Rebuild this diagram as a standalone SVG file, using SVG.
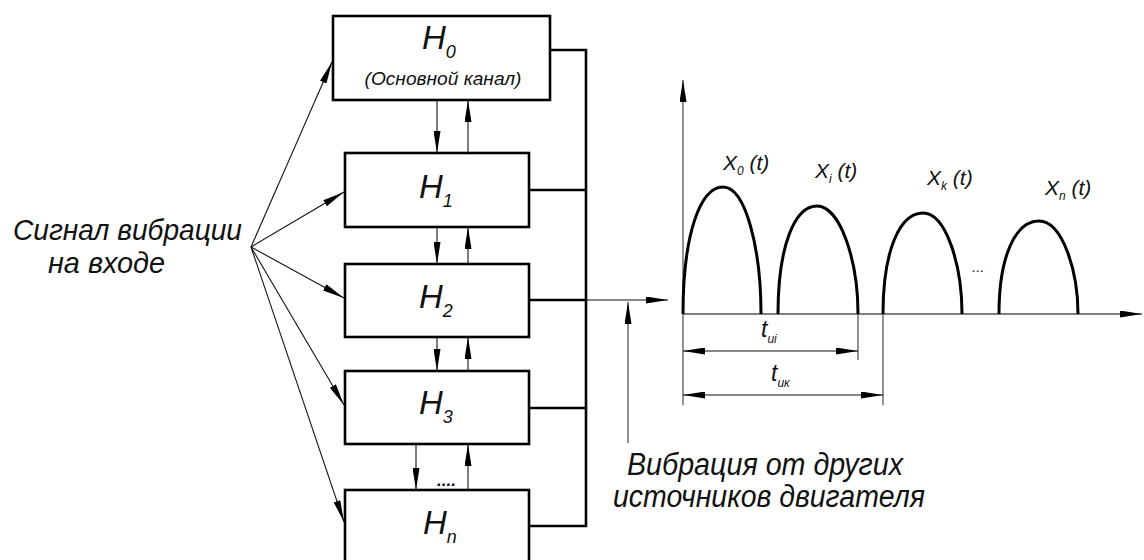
<svg xmlns="http://www.w3.org/2000/svg" width="1144" height="560" viewBox="0 0 1144 560">
<style>
.box{fill:#fff;stroke:#000;stroke-width:2.6}
.bus{fill:none;stroke:#000;stroke-width:2.6}
.thin{fill:none;stroke:#111;stroke-width:1.1}
.axis{fill:none;stroke:#555;stroke-width:1.3}
.hump{fill:none;stroke:#000;stroke-width:3}
text{font-family:"Liberation Sans","DejaVu Sans",sans-serif;font-style:italic;fill:#111}
.h{font-size:33px}
.sub{font-size:18px}
.lbl{font-size:21px}
</style>
<defs>
<marker id="ah" viewBox="0 0 22 7" refX="22" refY="3.5" markerWidth="22" markerHeight="7" markerUnits="userSpaceOnUse" orient="auto">
<path d="M0,0 L22,3.5 L0,7 Z" fill="#000"/>
</marker>
<marker id="ahs" viewBox="0 0 22 7" refX="0" refY="3.5" markerWidth="22" markerHeight="7" markerUnits="userSpaceOnUse" orient="auto">
<path d="M22,0 L0,3.5 L22,7 Z" fill="#000"/>
</marker>
</defs>

<g id="nodes">
<g id="H0"><rect class="box" x="333" y="16" width="217" height="84"/>
<text class="h" x="422" y="49">H<tspan class="sub" dy="9">0</tspan></text>
<text x="443" y="85" font-size="18" text-anchor="middle" textLength="157" lengthAdjust="spacingAndGlyphs">(Основной канал)</text></g>
<g id="H1"><rect class="box" x="345" y="153" width="184" height="74"/>
<text class="h" x="419" y="198">H<tspan class="sub" dy="9">1</tspan></text></g>
<g id="H2"><rect class="box" x="345" y="264" width="184" height="73"/>
<text class="h" x="419" y="308">H<tspan class="sub" dy="9">2</tspan></text></g>
<g id="H3"><rect class="box" x="345" y="371" width="184" height="73"/>
<text class="h" x="419" y="414">H<tspan class="sub" dy="9">3</tspan></text></g>
<g id="Hn"><rect class="box" x="345" y="490" width="184" height="80"/>
<text class="h" x="423" y="534">H<tspan class="sub" dy="9">n</tspan></text></g>
</g>

<g id="connectors">
<path class="bus" d="M550,50 H586 V526 H529 M529,190 H586 M529,300 H586 M529,408 H586"/>
<line class="thin" x1="437" y1="100" x2="437" y2="153" marker-end="url(#ah)"/>
<line class="thin" x1="468" y1="153" x2="468" y2="100" marker-end="url(#ah)"/>
<line class="thin" x1="437" y1="227" x2="437" y2="264" marker-end="url(#ah)"/>
<line class="thin" x1="468" y1="264" x2="468" y2="227" marker-end="url(#ah)"/>
<line class="thin" x1="437" y1="337" x2="437" y2="371" marker-end="url(#ah)"/>
<line class="thin" x1="468" y1="371" x2="468" y2="337" marker-end="url(#ah)"/>
<line class="thin" x1="416" y1="444" x2="416" y2="490" marker-end="url(#ah)"/>
<line class="thin" x1="468" y1="490" x2="468" y2="444" marker-end="url(#ah)"/>
<text x="437" y="486" font-size="17" font-style="normal" font-weight="bold">....</text>
<line class="thin" x1="251" y1="247" x2="332" y2="62" marker-end="url(#ah)"/>
<line class="thin" x1="251" y1="247" x2="344" y2="192" marker-end="url(#ah)"/>
<line class="thin" x1="251" y1="247" x2="344" y2="298" marker-end="url(#ah)"/>
<line class="thin" x1="251" y1="247" x2="344" y2="405" marker-end="url(#ah)"/>
<line class="thin" x1="251" y1="247" x2="344" y2="522" marker-end="url(#ah)"/>
<line class="thin" x1="586" y1="300" x2="668" y2="300" marker-end="url(#ah)"/>
<line class="axis" x1="628" y1="443" x2="628" y2="302" marker-end="url(#ah)"/>
</g>

<g id="graph">
<line class="axis" x1="683" y1="405" x2="683" y2="80" marker-end="url(#ah)"/>
<line class="axis" x1="683" y1="314" x2="1142" y2="314" marker-end="url(#ah)"/>
<path class="hump" d="M683,314 C683,235 700,187 723,187 C746,187 761,250 761,314"/>
<path class="hump" d="M778,314 C778,245 795,206 817,206 C840,206 858,260 858,314"/>
<path class="hump" d="M883,314 C883,250 900,213 923,213 C946,213 962,265 962,314"/>
<path class="hump" d="M999,314 C999,255 1016,221 1039,221 C1062,221 1078,270 1078,314"/>
<text class="lbl" x="723" y="170">X<tspan font-size="12" dy="5">0</tspan><tspan dy="-5"> (t)</tspan></text>
<text class="lbl" x="815" y="178">X<tspan font-size="12" dy="5">i</tspan><tspan dy="-5"> (t)</tspan></text>
<text class="lbl" x="927" y="185">X<tspan font-size="12" dy="5">k</tspan><tspan dy="-5"> (t)</tspan></text>
<text class="lbl" x="1045" y="195">X<tspan font-size="12" dy="5">n</tspan><tspan dy="-5"> (t)</tspan></text>
<text x="972" y="272" font-size="15" font-style="normal">...</text>
<line class="axis" x1="858" y1="314" x2="858" y2="360"/>
<line class="axis" x1="883" y1="314" x2="883" y2="405"/>
<line class="thin" x1="683" y1="351" x2="858" y2="351" marker-start="url(#ahs)" marker-end="url(#ah)"/>
<line class="thin" x1="683" y1="395" x2="883" y2="395" marker-start="url(#ahs)" marker-end="url(#ah)"/>
<text x="761" y="337" font-size="23">t<tspan font-size="12" dy="6">ui</tspan></text>
<text x="771" y="381" font-size="23">t<tspan font-size="12" dy="6">uк</tspan></text>
</g>

<g id="labels">
<text x="13" y="240" font-size="30" textLength="229" lengthAdjust="spacingAndGlyphs">Сигнал вибрации</text>
<text x="48" y="273" font-size="30" textLength="117" lengthAdjust="spacingAndGlyphs">на входе</text>
<text x="627" y="475" font-size="31" textLength="276" lengthAdjust="spacingAndGlyphs">Вибрация от других</text>
<text x="613" y="507" font-size="31" textLength="312" lengthAdjust="spacingAndGlyphs">источников двигателя</text>
</g>
</svg>
